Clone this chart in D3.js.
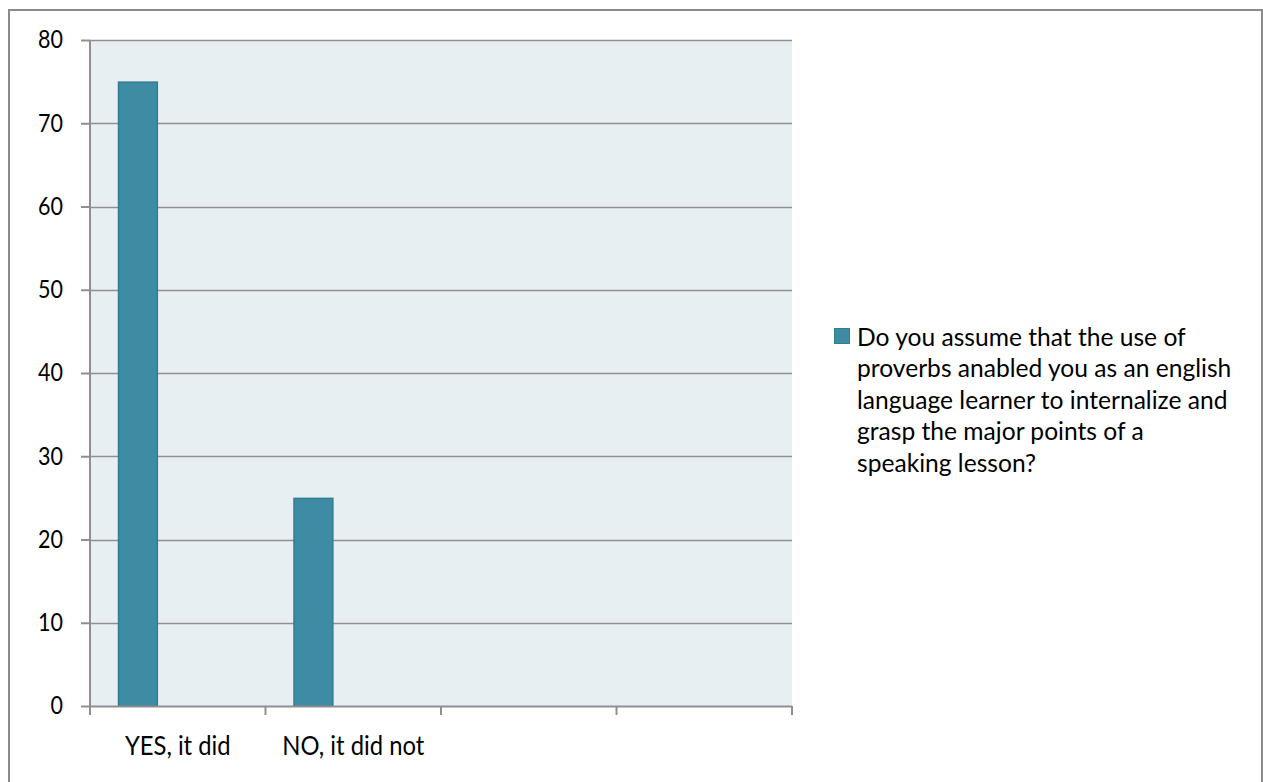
<!DOCTYPE html>
<html>
<head>
<meta charset="utf-8">
<script src="https://cdn.jsdelivr.net/npm/d3@7"></script>
<style>
  html, body { margin: 0; padding: 0; background: #ffffff; }
  svg { display: block; }
  text { font-family: Lato, "Open Sans", sans-serif; fill: #000; }
</style>
</head>
<body>
<svg id="chart" width="1263" height="782"></svg>
<script>
const categories = ["YES, it did", "NO, it did not", "", " "];
const seriesNames = ["Do you assume that the use of proverbs anabled you as an english language learner to internalize and grasp the major points of a speaking lesson?"];
const seriesValues = [75, 25, null, null];
const yTicks = [0, 10, 20, 30, 40, 50, 60, 70, 80];
const legendLines = [
  "Do you assume that the use of",
  "proverbs anabled you as an english",
  "language learner to internalize and",
  "grasp the major points of a",
  "speaking lesson?"
];

const svg = d3.select("#chart");
const plot = { left: 90, right: 792, top: 40, bottom: 706 };
const barColor = "#3e8ca3", barStroke = "#317d92";
const gridColor = "#8f8f8f";
const vs = 1.16;   // vertical stretch of axis text
const vsL = 1.05;  // vertical stretch of legend text

// outer border
svg.append("rect")
  .attr("x", 9).attr("y", 10).attr("width", 1253).attr("height", 790)
  .attr("fill", "#fff").attr("stroke", "#8c8c8c").attr("stroke-width", 2);

const x = d3.scaleBand().domain(categories).range([plot.left, plot.right]).padding(0);
const xInner = d3.scaleBand().domain(["s1", "s2", "s3"]).range([0, x.bandwidth()]).paddingInner(0).paddingOuter(0.703);
const y = d3.scaleLinear().domain([0, 80]).range([plot.bottom, plot.top]);

// plot background
svg.append("rect")
  .attr("x", plot.left).attr("y", plot.top)
  .attr("width", plot.right - plot.left).attr("height", plot.bottom - plot.top)
  .attr("fill", "#e8eff3");

// gridlines
svg.append("g").selectAll("line").data(yTicks.filter(d => d > 0)).join("line")
  .attr("x1", plot.left).attr("x2", plot.right)
  .attr("y1", d => Math.round(y(d)) + 0.5).attr("y2", d => Math.round(y(d)) + 0.5)
  .attr("stroke", gridColor).attr("stroke-width", 1.5);

// bars
svg.append("g").selectAll("rect").data(categories.map((c, i) => ({ c, v: seriesValues[i] })).filter(d => d.v != null)).join("rect")
  .attr("x", d => x(d.c) + xInner("s1") + 0.5)
  .attr("y", d => y(d.v) + 0.5)
  .attr("width", xInner.bandwidth() - 1)
  .attr("height", d => y(0) - y(d.v) - 0.5)
  .attr("fill", barColor).attr("stroke", barStroke).attr("stroke-width", 1.5);

// y axis
const yAxis = d3.axisLeft(y).tickValues(yTicks).tickSize(9).tickPadding(18).tickFormat(d3.format("d"));
const gy = svg.append("g").attr("transform", `translate(${plot.left},0)`).call(yAxis);
gy.select(".domain").attr("stroke", gridColor).attr("stroke-width", 2).attr("d", `M0,${plot.top}V${plot.bottom + 1}`);
gy.selectAll(".tick line").attr("stroke", gridColor).attr("stroke-width", 2);
gy.selectAll(".tick text")
  .style("font-size", "21.5px").style("font-family", "Lato, sans-serif").attr("fill", "#000")
  .attr("transform", `scale(1,${vs})`);

// x axis
const xAxis = d3.axisBottom(x).tickSize(0).tickPadding(0).tickFormat(d => d.trim());
const gx = svg.append("g").attr("transform", `translate(0,${plot.bottom})`).call(xAxis);
gx.select(".domain").attr("stroke", gridColor).attr("stroke-width", 2).attr("d", `M${plot.left},0.5H${plot.right}`);
gx.selectAll(".tick text")
  .attr("y", 49 / vs).attr("dy", 0)
  .attr("transform", `scale(1,${vs})`)
  .style("font-size", "23.8px").style("font-family", "Lato, sans-serif").attr("fill", "#000");
// boundary ticks between categories
const bounds = categories.map(c => x(c)).concat([plot.right]);
gx.append("g").selectAll("line").data(bounds).join("line")
  .attr("x1", d => d).attr("x2", d => d).attr("y1", 0).attr("y2", 9)
  .attr("stroke", gridColor).attr("stroke-width", 2);

// legend
const lg = svg.append("g").attr("transform", "translate(834,346)");
lg.append("rect").attr("x", 0.5).attr("y", -17.5).attr("width", 15).attr("height", 15)
  .attr("fill", barColor).attr("stroke", barStroke).attr("stroke-width", 1);
lg.append("text").attr("x", 23).attr("y", 0)
  .attr("transform", `scale(1,${vsL})`)
  .style("font-size", "24.6px")
  .selectAll("tspan").data(legendLines).join("tspan")
  .attr("x", 23).attr("dy", (d, i) => i === 0 ? 0 : 31.5 / vsL).text(d => d);
</script>
</body>
</html>
